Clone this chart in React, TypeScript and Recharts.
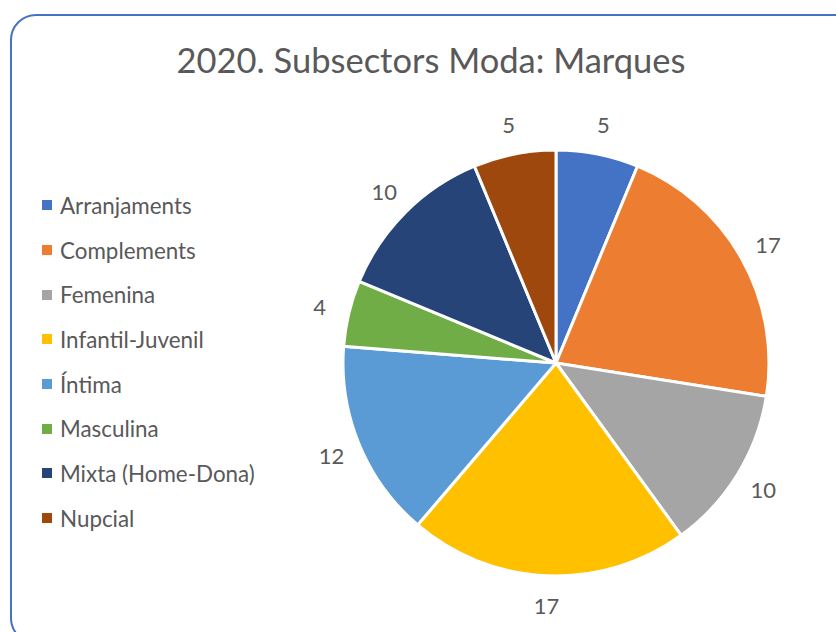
import React from 'react';
import { PieChart, Pie, Cell } from 'recharts';

const subsectors = ['Arranjaments', 'Complements', 'Femenina', 'Infantil-Juvenil', 'Íntima', 'Masculina', 'Mixta (Home-Dona)', 'Nupcial'];
const marques = [5, 17, 10, 17, 12, 4, 10, 5];
const colors = ['#4472C4', '#ED7D31', '#A5A5A5', '#FFC000', '#5B9BD5', '#70AD47', '#264478', '#9E480E'];

const data = subsectors.map((name, i) => ({ name, value: marques[i] }));

const FONT = 'Lato, "Open Sans", sans-serif';
const TXT = '#595959';
const RAD = Math.PI / 180;

// etiqueta fora del sector
const renderLabel = (p: any) => {
  const r = p.outerRadius + 30;
  const x = p.cx + r * Math.cos(-p.midAngle * RAD);
  const y = p.cy + r * Math.sin(-p.midAngle * RAD);
  return (
    <text x={x} y={y} fill={TXT} fontSize={22} fontFamily={FONT} textAnchor="middle" dominantBaseline="central">
      {p.value}
    </text>
  );
};

export default function App() {
  return (
    <div style={{ position: 'absolute', left: 0, top: 0, width: 836, height: 632, overflow: 'hidden', background: '#fff' }}>
      <div style={{ position: 'absolute', left: 10, top: 14, width: 860, height: 626, border: '2px solid #4472C4', borderRadius: 26 }} />
      <div style={{ position: 'absolute', left: 0, width: 862, top: 38, textAlign: 'center', fontFamily: FONT, fontSize: 34.5, color: TXT, lineHeight: '44px' }}>
        2020. Subsectors Moda: Marques
      </div>
      <div style={{ position: 'absolute', left: 42, top: 183 }}>
        {subsectors.map((s, i) => (
          <div key={s} style={{ display: 'flex', alignItems: 'center', height: 44.7 }}>
            <span style={{ width: 10, height: 10, background: colors[i], display: 'inline-block', marginRight: 8 }} />
            <span style={{ fontSize: 22.4, color: TXT, fontFamily: FONT }}>{s}</span>
          </div>
        ))}
      </div>
      <div style={{ position: 'absolute', left: 0, top: 0 }}>
        <PieChart width={836} height={632} margin={{ top: 0, right: 0, bottom: 0, left: 0 }}>
          <Pie
            data={data}
            dataKey="value"
            nameKey="name"
            cx={556}
            cy={363}
            outerRadius={213}
            startAngle={90}
            endAngle={-270}
            stroke="#fff"
            strokeWidth={3}
            label={renderLabel}
            labelLine={false}
            isAnimationActive={false}
          >
            {data.map((d, i) => <Cell key={d.name} fill={colors[i]} />)}
          </Pie>
        </PieChart>
      </div>
    </div>
  );
}
